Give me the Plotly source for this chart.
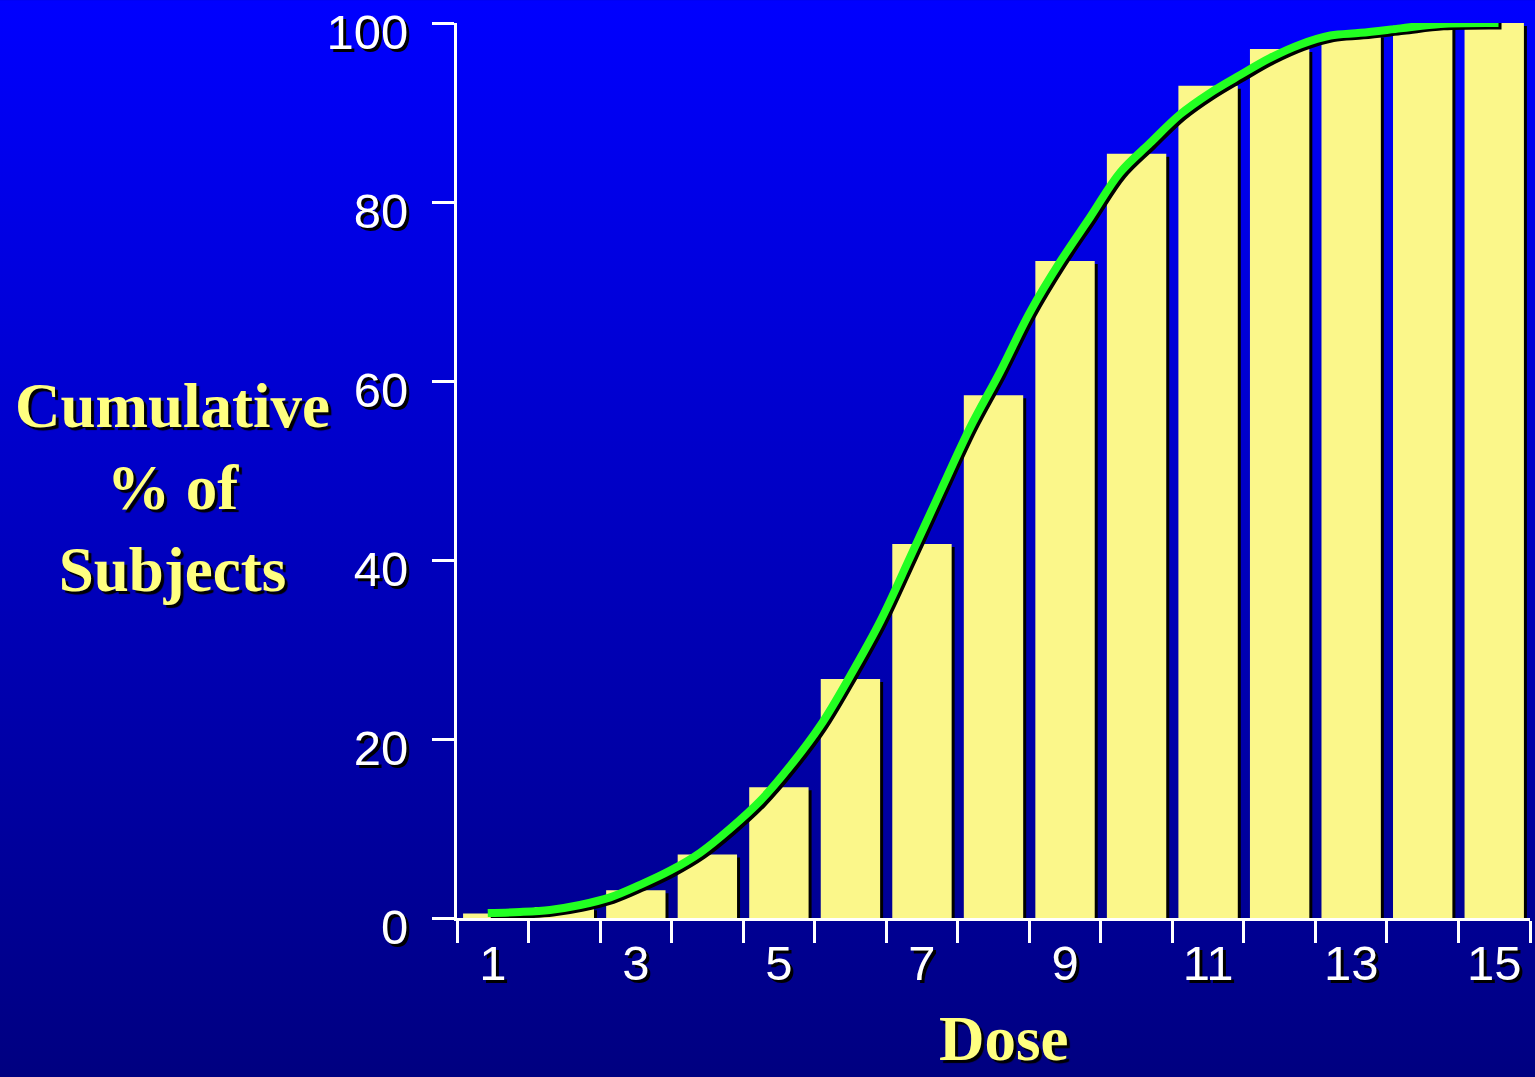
import base64
import plotly.graph_objects as go

# ---- data ----
doses = list(range(1, 16))
bar_values = [0.5, 1.2, 3.1, 7.1, 14.6, 26.7, 41.8, 58.4, 73.4, 85.4, 93.0, 97.1, 98.7, 99.7, 100.0]

curve_x = [0.93, 1.38, 1.80, 2.22, 2.64, 3.06, 3.48, 3.90, 4.32, 4.74, 5.16, 5.58, 6.00, 6.42,
           6.84, 7.26, 7.68, 8.09, 8.51, 8.93, 9.35, 9.77, 10.19, 10.61, 11.03, 11.45, 11.87,
           12.29, 12.71, 13.13, 13.69, 14.25, 15.06]
curve_y = [0.56, 0.67, 0.9, 1.45, 2.3, 3.7, 5.3, 7.3, 10.0, 13.1, 17.0, 21.5, 27.1, 33.2,
           40.4, 47.7, 54.9, 61.0, 67.7, 73.3, 78.3, 83.3, 86.6, 89.8, 92.2, 94.2, 96.1,
           97.6, 98.6, 98.9, 99.4, 99.9, 100.0]

x_tick_vals = [1, 3, 5, 7, 9, 11, 13, 15]
x_tick_text = ["1", "3", "5", "7", "9", "11", "13", "15"]
y_tick_vals = [0, 20, 40, 60, 80, 100]
y_tick_text = ["0", "20", "40", "60", "80", "100"]

y_title = "Cumulative<br>% of<br>Subjects"
x_title = "Dose"

# ---- layout geometry ----
W, H = 1535, 1077
ML, MR, MT, MB = 457, 5, 20, 159
PW, PH = W - ML - MR, H - MT - MB
XR = [0.5, 15.5]
YR = [0, 100]
dx = 3 * (XR[1] - XR[0]) / PW   # 3px shadow offset in data units
dy = 3 * (YR[1] - YR[0]) / PH

YELLOW = "#FBF78A"
GREEN = "#22FF22"
TXT_Y = "#FFFF80"

fig = go.Figure()
# bar shadows
fig.add_trace(go.Bar(x=[d + dx for d in doses], y=bar_values, base=[-dy] * len(doses),
                     width=0.83, marker=dict(color="black", line=dict(width=0)),
                     hoverinfo="skip", showlegend=False))
# bars
fig.add_trace(go.Bar(x=doses, y=bar_values, width=0.83,
                     marker=dict(color=YELLOW, line=dict(width=0)), showlegend=False))
# line shadow
fig.add_trace(go.Scatter(x=[v + dx for v in curve_x], y=[v - dy for v in curve_y], mode="lines",
                         line=dict(color="black", width=7, shape="spline"),
                         hoverinfo="skip", showlegend=False, cliponaxis=False))
# line
fig.add_trace(go.Scatter(x=curve_x, y=curve_y, mode="lines",
                         line=dict(color=GREEN, width=8, shape="spline"),
                         showlegend=False, cliponaxis=False))

svg = (f'<svg xmlns="http://www.w3.org/2000/svg" width="{W}" height="{H}">'
       '<defs><linearGradient id="g" x1="0" y1="0" x2="0" y2="1">'
       '<stop offset="0" stop-color="#0000FF"/><stop offset="1" stop-color="#000080"/>'
       '</linearGradient></defs>'
       f'<rect width="{W}" height="{H}" fill="url(#g)"/></svg>')
src = "data:image/svg+xml;base64," + base64.b64encode(svg.encode()).decode()

tick_font = dict(family="Liberation Sans, Arial", size=49, color="white",
                 shadow="3px 3px 0px black")
title_font = dict(family="Liberation Serif, Times New Roman", size=63, color=TXT_Y,
                  weight="bold", shadow="3px 3px 1px black")

fig.update_layout(
    width=W, height=H,
    margin=dict(l=ML, r=MR, t=MT, b=MB, pad=0),
    paper_bgcolor="#000080",
    plot_bgcolor="rgba(0,0,0,0)",
    barmode="overlay",
    images=[dict(source=src, xref="paper", yref="paper",
                 x=-(ML + 3) / PW, y=1 + (MT + 3) / PH, sizex=(W + 6) / PW, sizey=(H + 6) / PH,
                 xanchor="left", yanchor="top", sizing="stretch", layer="below")],
    xaxis=dict(range=XR, showgrid=False, zeroline=False, showline=True, linecolor="white",
               linewidth=3, tickmode="array", tickvals=x_tick_vals, ticktext=x_tick_text,
               ticks="", tickfont=tick_font,
               minor=dict(tickmode="linear", tick0=0.5, dtick=1, ticks="outside",
                          ticklen=22, tickwidth=3, tickcolor="white", showgrid=False)),
    yaxis=dict(range=YR, showgrid=False, zeroline=False, showline=True, linecolor="white",
               linewidth=3, tickmode="array", tickvals=y_tick_vals, ticktext=y_tick_text,
               ticks="outside", ticklen=22, tickwidth=3, tickcolor="white",
               tickfont=tick_font, ticklabelshift=9, ticklabelstandoff=14),
    annotations=[
        dict(text=y_title, xref="paper", yref="paper", x=(172 - ML) / PW, y=(918 - 487) / PH,
             xanchor="center", yanchor="middle", showarrow=False, font=title_font, align="center"),
        dict(text=x_title, xref="paper", yref="paper", x=(1003 - ML) / PW, y=(918 - 1039) / PH,
             xanchor="center", yanchor="middle", showarrow=False, font=title_font),
    ],
)

fig.write_html("out.html", config={"displayModeBar": False},
               post_script="document.body.style.margin='0';document.body.style.overflow='hidden';")
